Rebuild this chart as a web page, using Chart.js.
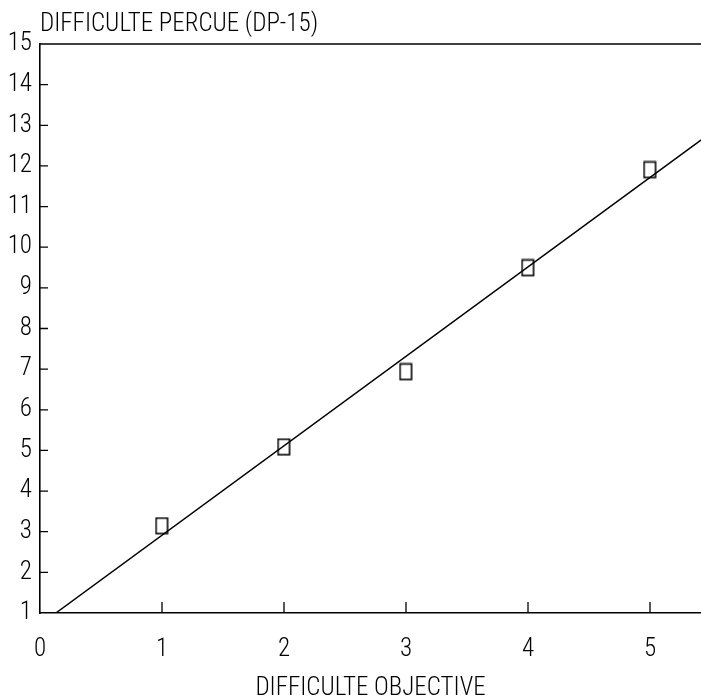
<!DOCTYPE html>
<html>
<head>
<meta charset="utf-8">
<script src="https://cdn.jsdelivr.net/npm/chart.js@4.4.1/dist/chart.umd.min.js"></script>
<style>
  html, body { margin: 0; padding: 0; background: #fff; }
  #wrap { width: 701px; height: 700px; position: relative; }
</style>
</head>
<body>
<div id="wrap"><canvas id="c" width="701" height="700"></canvas></div>
<script>
// Data
const objectiveDifficulty = [1, 2, 3, 4, 5];
const perceivedDifficulty = [3.14, 5.08, 6.93, 9.49, 11.9];
const fitLineX = [0.13, 5.42];
const fitLineY = [1.0, 12.64];
const xTicks = [0, 1, 2, 3, 4, 5];
const yTicks = [1, 2, 3, 4, 5, 6, 7, 8, 9, 10, 11, 12, 13, 14, 15];
const yAxisTitle = 'DIFFICULTE PERCUE (DP-15)';
const xAxisTitle = 'DIFFICULTE OBJECTIVE';

const probe = document.createElement('canvas').getContext('2d');
function hasFont(name) {
  const s = 'DIFFICULTE 0123456789 mwil';
  for (const base of ['monospace', 'serif']) {
    probe.font = '60px ' + base;
    const w0 = probe.measureText(s).width;
    probe.font = '60px "' + name + '", ' + base;
    if (Math.abs(probe.measureText(s).width - w0) > 0.5) return true;
  }
  return false;
}
const candidates = ['Roboto Condensed', 'Liberation Sans Narrow', 'DejaVu Sans Condensed', 'Roboto'];
const chosen = candidates.find(hasFont) || 'sans-serif';
const FONT = '"' + chosen + '", "DejaVu Sans Condensed", sans-serif';
const WEIGHT = chosen.indexOf('Roboto') === 0 ? '300' : 'normal';

function sizeForWidth(text, target, maxSize) {
  probe.font = WEIGHT + ' 100px ' + FONT;
  const w = probe.measureText(text).width;
  return Math.min(maxSize, Math.round(100 * target / w * 10) / 10);
}
const titleSize = sizeForWidth(yAxisTitle, 278, 27);
const xTitleSize = sizeForWidth(xAxisTitle, 236, 25);
const tickSize = 25;

const marker = document.createElement('canvas');
marker.width = 15; marker.height = 19;
(function () {
  const m = marker.getContext('2d');
  m.strokeStyle = '#000';
  m.lineWidth = 1.6;
  m.strokeRect(1.5, 1.5, 11.5, 15.5);
})();

const scatterData = objectiveDifficulty.map((x, i) => ({ x: x, y: perceivedDifficulty[i] }));
const lineData = fitLineX.map((x, i) => ({ x: x, y: fitLineY[i] }));

const framePlugin = {
  id: 'frame',
  afterDraw(chart) {
    const { ctx, chartArea, scales } = chart;
    const xs = scales.x, ys = scales.y;
    ctx.save();
    ctx.strokeStyle = '#000';
    ctx.lineWidth = 1.6;
    ctx.beginPath();
    ctx.moveTo(chartArea.left, chartArea.top);
    ctx.lineTo(chartArea.right, chartArea.top);
    ctx.stroke();
    ctx.lineWidth = 1.3;
    ctx.beginPath();
    xTicks.forEach(v => {
      if (v === 0) return;
      const px = xs.getPixelForValue(v);
      ctx.moveTo(px, chartArea.bottom);
      ctx.lineTo(px, chartArea.bottom - 11);
    });
    yTicks.forEach(v => {
      if (v === 1 || v === 15) return;
      const py = ys.getPixelForValue(v);
      ctx.moveTo(chartArea.left, py);
      ctx.lineTo(chartArea.left + 8, py);
    });
    ctx.stroke();
    ctx.fillStyle = '#000';
    ctx.font = WEIGHT + ' ' + titleSize + 'px ' + FONT;
    ctx.textAlign = 'left';
    ctx.textBaseline = 'alphabetic';
    ctx.fillText(yAxisTitle, chartArea.left, 31);
    ctx.restore();
  }
};

new Chart(document.getElementById('c'), {
  type: 'scatter',
  data: {
    datasets: [
      { type: 'line', data: lineData, borderColor: '#000', borderWidth: 1.5, pointRadius: 0, fill: false, tension: 0 },
      { type: 'scatter', data: scatterData, pointStyle: marker, pointRadius: 7, borderColor: '#000', backgroundColor: 'rgba(0,0,0,0)' }
    ]
  },
  options: {
    responsive: false,
    animation: false,
    devicePixelRatio: 1,
    layout: { autoPadding: false, padding: { top: 44, right: 0, left: 0, bottom: 0 } },
    plugins: { legend: { display: false }, tooltip: { enabled: false }, title: { display: false } },
    scales: {
      x: {
        type: 'linear', min: 0, max: 5.418,
        afterBuildTicks(scale) { scale.ticks = xTicks.map(v => ({ value: v })); },
        afterFit(scale) { scale.height = 87; scale.paddingRight = 0; scale.paddingLeft = 0; },
        grid: { display: true, drawOnChartArea: false, drawTicks: false },
        border: { display: true, color: '#000', width: 1.6 },
        ticks: { color: '#000', padding: 22, maxRotation: 0, autoSkip: false,
          font: { family: FONT, size: tickSize, weight: WEIGHT }, callback: v => String(v) },
        title: { display: true, text: xAxisTitle, color: '#000',
          font: { family: FONT, size: xTitleSize, weight: WEIGHT }, padding: { top: 4, bottom: -4 } }
      },
      y: {
        type: 'linear', min: 1, max: 15,
        afterBuildTicks(scale) { scale.ticks = yTicks.map(v => ({ value: v })); },
        afterFit(scale) { scale.width = 40; scale.paddingTop = 0; scale.paddingBottom = 0; },
        grid: { display: true, drawOnChartArea: false, drawTicks: false },
        border: { display: true, color: '#000', width: 1.6 },
        ticks: { color: '#000', padding: 8, autoSkip: false,
          font: { family: FONT, size: tickSize, weight: WEIGHT }, callback: v => String(v) }
      }
    }
  },
  plugins: [framePlugin]
});
</script>
</body>
</html>
